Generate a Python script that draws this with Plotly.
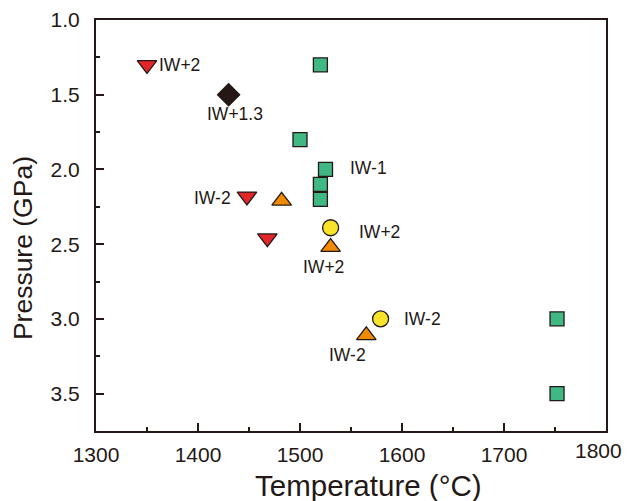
import plotly.graph_objects as go

# Data (temperature °C, pressure GPa)
red_T = [1350, 1448, 1468]
red_P = [1.30, 2.18, 2.46]
orange_T = [1482, 1530, 1565]
orange_P = [2.21, 2.52, 3.11]
yellow_T = [1530, 1579]
yellow_P = [2.39, 3.00]
green_T = [1520, 1500, 1525, 1520, 1520, 1752, 1752]
green_P = [1.30, 1.80, 2.00, 2.10, 2.20, 3.00, 3.50]
black_T = [1430]
black_P = [1.50]

labels = ["IW+2", "IW+1.3", "IW-1", "IW-2", "IW+2", "IW+2", "IW-2", "IW-2"]
label_T = [1360, 1436, 1547, 1434, 1556, 1523, 1600, 1547]
label_P = [1.30, 1.63, 1.99, 2.19, 2.42, 2.65, 3.00, 3.24]
label_anchor = ["left", "center", "left", "right", "left", "center", "left", "center"]

x_ticks = [1300, 1400, 1500, 1600, 1700, 1800]
x_ticktext = ["1300", "1400", "1500", "1600", "1700", ""]
y_ticks = [1.0, 1.5, 2.0, 2.5, 3.0, 3.5]

x_title = "Temperature (°C)"
y_title = "Pressure (GPa)"

DARK = "#231815"
FONT = "Liberation Sans, Arial, sans-serif"
line = dict(color=DARK, width=1.3)

fig = go.Figure()
fig.add_trace(go.Scatter(x=green_T, y=green_P, mode="markers",
                         marker=dict(symbol="square", size=14, color="#3fb884", line=line)))
fig.add_trace(go.Scatter(x=red_T, y=red_P, mode="markers",
                         marker=dict(symbol="triangle-down", size=17, color="#e2262a", line=line)))
fig.add_trace(go.Scatter(x=orange_T, y=orange_P, mode="markers",
                         marker=dict(symbol="triangle-up", size=17, color="#f08a00", line=line)))
fig.add_trace(go.Scatter(x=yellow_T, y=yellow_P, mode="markers",
                         marker=dict(symbol="circle", size=16, color="#f6e32a", line=line)))
fig.add_trace(go.Scatter(x=black_T, y=black_P, mode="markers",
                         marker=dict(symbol="diamond", size=17, color=DARK, line=line)))

for t, x, y, a in zip(labels, label_T, label_P, label_anchor):
    fig.add_annotation(x=x, y=y, text=t, showarrow=False, xanchor=a, yanchor="middle",
                       font=dict(size=17.5, color=DARK, family=FONT))

# last x tick label, shifted left to stay inside the page as in the reference
fig.add_annotation(x=1800, y=0, xref="x", yref="paper", text="1800", showarrow=False,
                   xanchor="right", yanchor="top", xshift=18, yshift=-6,
                   font=dict(size=21, color=DARK, family=FONT))

# axis titles (placed as in the reference, slightly off-centre)
fig.add_annotation(x=0.51, y=0, xref="paper", yref="paper", text=x_title, showarrow=False,
                   xanchor="center", yanchor="middle", xshift=12, yshift=-54,
                   font=dict(size=29.5, color=DARK, family=FONT))
fig.add_annotation(x=0, y=0.445, xref="paper", yref="paper", text=y_title, showarrow=False,
                   textangle=-90, xanchor="center", yanchor="middle", xshift=-73,
                   font=dict(size=26.5, color=DARK, family=FONT))

axis_common = dict(showgrid=False, zeroline=False, showline=True, linecolor=DARK, linewidth=2,
                   mirror=True, ticks="inside", ticklen=8, tickwidth=1.5, tickcolor=DARK,
                   automargin=False,
                   tickfont=dict(size=21, color=DARK, family=FONT))

fig.update_layout(
    width=627, height=501,
    margin=dict(l=96, r=21, t=20, b=70),
    paper_bgcolor="white", plot_bgcolor="white",
    showlegend=False,
    xaxis=dict(range=[1300, 1800], tickvals=x_ticks, ticktext=x_ticktext, ticklabelstandoff=4,
               minor=dict(dtick=50, tick0=1300, ticks="inside", ticklen=4, tickwidth=1.5, tickcolor=DARK),
               **axis_common),
    yaxis=dict(range=[3.75, 1.0], tickvals=y_ticks, tickformat=".1f", ticklabelstandoff=10,
               minor=dict(dtick=0.25, tick0=1.0, ticks="inside", ticklen=4, tickwidth=1.5, tickcolor=DARK),
               **axis_common),
)

fig.write_html("out.html")
